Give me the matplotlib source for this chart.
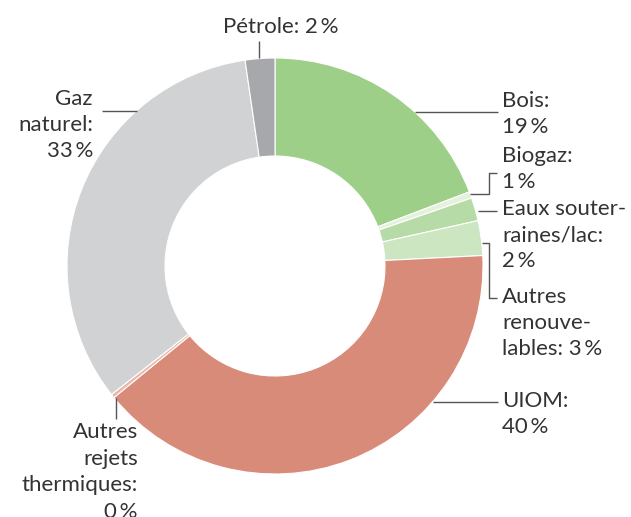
import matplotlib
matplotlib.use("Agg")
import matplotlib.pyplot as plt

labels = ["Bois", "Biogaz", "Eaux souterraines/lac", "Autres renouvelables",
          "UIOM", "Autres rejets thermiques", "Gaz naturel", "Pétrole"]
values = [19.2, 0.5, 1.8, 2.7, 39.9, 0.3, 33.3, 2.3]
shown_pct = ["19", "1", "2", "3", "40", "0", "33", "2"]
colors = ["#9dcf88", "#e4f1dc", "#b6dba6", "#cce6c1",
          "#d98b7a", "#ebb6aa", "#d1d2d4", "#a7a8ab"]

TXT = "#333333"
LINE = "#555555"
H = 517
plt.rcParams["font.family"] = ["Lato", "DejaVu Sans"]


def py(y):
    # pixel row (from top) -> data y
    return H - y


fig = plt.figure(figsize=(6.31, 5.17), dpi=100)
ax = fig.add_axes([0, 0, 1, 1])
ax.pie(values, colors=colors, startangle=90, counterclock=False,
       radius=208, center=(275, py(266)),
       wedgeprops=dict(width=98, edgecolor="white", linewidth=0.8))
ax.set_xlim(0, 631)
ax.set_ylim(0, H)
ax.set_aspect("equal")
ax.axis("off")

kw = dict(fontsize=16, color=TXT, linespacing=1.4)
pct = {lab: p + "\u2009%" for lab, p in zip(labels, shown_pct)}

# leader lines
lw = 1.0
def leader(xs, ys):
    ax.plot(xs, [py(v) for v in ys], color=LINE, lw=lw, solid_capstyle="butt")

leader([415, 498], [112, 112])
leader([470, 489, 489, 497], [194, 194, 173, 173])
leader([478, 497], [211, 211])
leader([482, 489, 489, 497], [243, 243, 298, 298])
leader([433, 498], [402, 402])
leader([116, 116], [398, 419])
leader([102, 137], [111, 111])
leader([259, 259], [41, 58])

ax.text(502, py(114), "Bois:\n" + pct["Bois"], ha="left", va="center", **kw)
ax.text(502, py(169), "Biogaz:\n" + pct["Biogaz"], ha="left", va="center", **kw)
ax.text(502, py(235), "Eaux souter-\nraines/lac:\n" + pct["Eaux souterraines/lac"],
        ha="left", va="center", **kw)
ax.text(502, py(323), "Autres\nrenouve-\nlables: " + pct["Autres renouvelables"],
        ha="left", va="center", **kw)
ax.text(502, py(414), "UIOM:\n" + pct["UIOM"], ha="left", va="center", **kw)
ax.text(138, py(472), "Autres\nrejets\nthermiques:\n" + pct["Autres rejets thermiques"],
        ha="right", va="center", multialignment="right", **kw)
ax.text(93, py(125), "Gaz\nnaturel:\n" + pct["Gaz naturel"], ha="right", va="center",
        multialignment="right", **kw)
ax.text(281, py(27), "Pétrole: " + pct["Pétrole"], ha="center", va="center", **kw)

fig.savefig("out.png", dpi=100)
